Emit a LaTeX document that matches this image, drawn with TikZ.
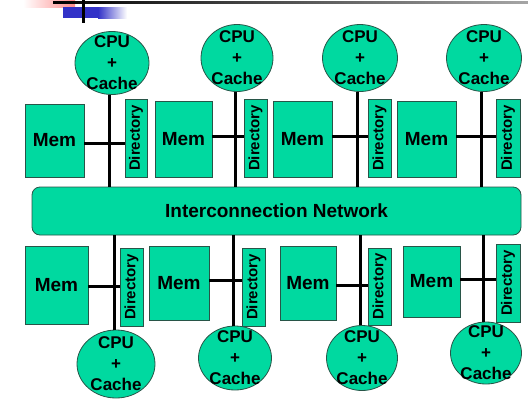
\documentclass[tikz,border=0pt]{standalone}
\usepackage{fontspec}
\setmainfont{Liberation Sans}
\usepackage{graphicx}
\usetikzlibrary{shapes.geometric}
\definecolor{boxgreen}{RGB}{0,217,160}
\definecolor{edgegray}{RGB}{40,85,72}
\definecolor{decoblue}{RGB}{50,50,200}
\begin{document}
\begin{tikzpicture}[x=1pt,y=-1pt,
  box/.style={draw=edgegray,line width=0.8pt,fill=boxgreen,inner sep=0pt,font=\fontsize{19}{22}\selectfont\bfseries},
  membox/.style={box,rectangle},
  dirbox/.style={box,rectangle,font=\fontsize{15}{18}\selectfont\bfseries},
  cpubox/.style={box,ellipse},
  cputext/.style={inner sep=0pt,align=center,font=\fontsize{17}{21}\selectfont\bfseries},
  netbox/.style={box,rectangle,rounded corners=8pt},
  bus/.style={line width=3pt,black}]
\useasboundingbox (0,0) rectangle (528,400);
% slide decoration
\shade[left color=white,right color=red!45] (23,0) rectangle (75,7);
\fill[decoblue] (63,7) rectangle (98,18);
\shade[left color=decoblue,right color=white] (98,7) rectangle (127,18);
\shade[left color=black,right color=black!35] (53,1) rectangle (528,3.5);
\fill[black] (82,0) rectangle (84.5,23);

% network
\node[netbox,minimum width=489pt,minimum height=48pt] (net) at (276.5,211) {Interconnection Network};

% top row
\node[cpubox,minimum width=74pt,minimum height=63pt] (cpu1) at (112,63) {};
\node[cputext] at (cpu1) {CPU\\+\\Cache};
\node[membox,minimum width=59pt,minimum height=73pt] (mem1) at (54.5,140.5) {Mem};
\node[dirbox,minimum width=22pt,minimum height=78pt] (dir1) at (136,138) {\rotatebox{90}{Directory}};

\node[cpubox,minimum width=72pt,minimum height=67pt] (cpu2) at (237,58) {};
\node[cputext] at (cpu2) {CPU\\+\\Cache};
\node[membox,minimum width=57pt,minimum height=76pt] (mem2) at (183.5,139) {Mem};
\node[dirbox,minimum width=23pt,minimum height=78pt] (dir2) at (255.5,138) {\rotatebox{90}{Directory}};

\node[cpubox,minimum width=75pt,minimum height=67pt] (cpu3) at (360,58) {};
\node[cputext] at (cpu3) {CPU\\+\\Cache};
\node[membox,minimum width=59pt,minimum height=76pt] (mem3) at (302.5,139) {Mem};
\node[dirbox,minimum width=23pt,minimum height=78pt] (dir3) at (379.5,138) {\rotatebox{90}{Directory}};

\node[cpubox,minimum width=75pt,minimum height=67pt] (cpu4) at (484,58) {};
\node[cputext] at (cpu4) {CPU\\+\\Cache};
\node[membox,minimum width=59pt,minimum height=76pt] (mem4) at (426.5,139) {Mem};
\node[dirbox,minimum width=24pt,minimum height=78pt] (dir4) at (508,138) {\rotatebox{90}{Directory}};

% bottom row
\node[cpubox,minimum width=78pt,minimum height=68pt] (cpu5) at (116,364) {};
\node[cputext] at (cpu5) {CPU\\+\\Cache};
\node[membox,minimum width=63pt,minimum height=78pt] (mem5) at (56.5,285) {Mem};
\node[dirbox,minimum width=23pt,minimum height=78pt] (dir5) at (131.5,287) {\rotatebox{90}{Directory}};

\node[cpubox,minimum width=73pt,minimum height=64pt] (cpu6) at (235,358) {};
\node[cputext] at (cpu6) {CPU\\+\\Cache};
\node[membox,minimum width=60pt,minimum height=74pt] (mem6) at (179,283) {Mem};
\node[dirbox,minimum width=23pt,minimum height=78pt] (dir6) at (253.5,287) {\rotatebox{90}{Directory}};

\node[cpubox,minimum width=71pt,minimum height=65pt] (cpu7) at (362,358) {};
\node[cputext] at (cpu7) {CPU\\+\\Cache};
\node[membox,minimum width=56pt,minimum height=74pt] (mem7) at (308,283) {Mem};
\node[dirbox,minimum width=23pt,minimum height=77pt] (dir7) at (379.5,286.5) {\rotatebox{90}{Directory}};

\node[cpubox,minimum width=71pt,minimum height=62pt] (cpu8) at (486,353) {};
\node[cputext] at (cpu8) {CPU\\+\\Cache};
\node[membox,minimum width=57pt,minimum height=71pt] (mem8) at (431.5,281.5) {Mem};
\node[dirbox,minimum width=24pt,minimum height=78pt] (dir8) at (508,283) {\rotatebox{90}{Directory}};

% buses: top
\draw[bus] ([xshift=-3pt]cpu1.south) -- ([xshift=-3pt]cpu1.south |- net.north);
\draw[bus] ([xshift=-2pt]cpu2.south) -- ([xshift=-2pt]cpu2.south |- net.north);
\draw[bus] ([xshift=-3pt]cpu3.south) -- ([xshift=-3pt]cpu3.south |- net.north);
\draw[bus] ([xshift=-3pt]cpu4.south) -- ([xshift=-3pt]cpu4.south |- net.north);
\draw[bus] (mem1.east |- 0,143) -- (dir1.west |- 0,143);
\draw[bus] (mem2.east |- 0,136) -- (dir2.west |- 0,136);
\draw[bus] (mem3.east |- 0,136) -- (dir3.west |- 0,136);
\draw[bus] (mem4.east |- 0,136) -- (dir4.west |- 0,136);
% buses: bottom
\draw[bus] ([xshift=-2pt]cpu5.north) -- ([xshift=-2pt]cpu5.north |- net.south);
\draw[bus] ([xshift=-2pt]cpu6.north) -- ([xshift=-2pt]cpu6.north |- net.south);
\draw[bus] ([xshift=-2pt]cpu7.north) -- ([xshift=-2pt]cpu7.north |- net.south);
\draw[bus] ([xshift=-3pt]cpu8.north) -- ([xshift=-3pt]cpu8.north |- net.south);
\draw[bus] (mem5.east |- 0,286) -- (dir5.west |- 0,286);
\draw[bus] (mem6.east |- 0,280) -- (dir6.west |- 0,280);
\draw[bus] (mem7.east |- 0,285) -- (dir7.west |- 0,285);
\draw[bus] (mem8.east |- 0,279) -- (dir8.west |- 0,279);
\end{tikzpicture}
\end{document}
